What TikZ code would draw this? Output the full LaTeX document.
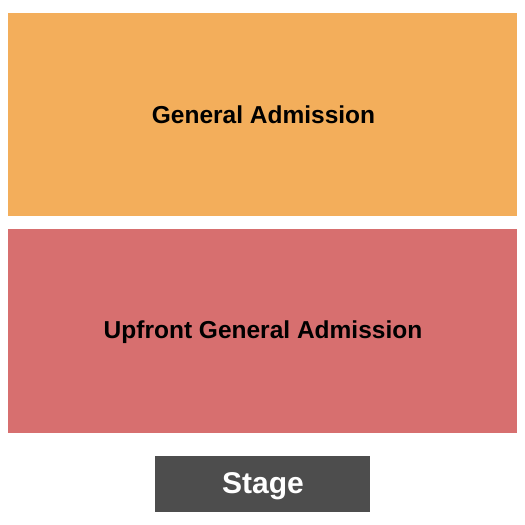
\documentclass[tikz,border=0pt]{standalone}
\usepackage{fontspec}
\setmainfont{Liberation Sans}
\definecolor{gaorange}{HTML}{F3AE5B}
\definecolor{upred}{HTML}{D76F6F}
\definecolor{stagegray}{HTML}{4D4D4D}
\begin{document}
\begin{tikzpicture}[x=1pt,y=-1pt,
  lbl/.style={font=\fontsize{24.5}{28}\selectfont\bfseries,text=black,inner sep=0pt,anchor=base},
  stagelbl/.style={font=\fontsize{30}{34}\selectfont\bfseries,text=white,inner sep=0pt,anchor=base}]
\fill[white] (0,0) rectangle (525,525);
\useasboundingbox (0,0) rectangle (525,525);
\fill[gaorange] (8,13) rectangle (517,216);
\coordinate (ga) at (263.5,123.3);
\node[lbl] (galbl) at (ga) {General Admission};
\fill[upred] (8,229) rectangle (517,433);
\coordinate (up) at (263,338.7);
\node[lbl] (uplbl) at (up) {Upfront General Admission};
\fill[stagegray] (155,456) rectangle (370,512);
\coordinate (st) at (263,493.3);
\node[stagelbl] (stlbl) at (st) {Stage};
\end{tikzpicture}
\end{document}
